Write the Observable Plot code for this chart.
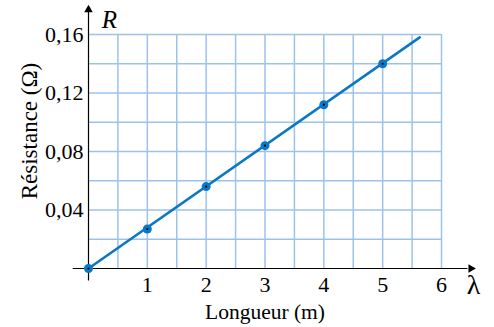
<!DOCTYPE html>
<html><head><meta charset="utf-8">
<script src="https://cdn.jsdelivr.net/npm/d3@7"></script>
<script src="https://cdn.jsdelivr.net/npm/@observablehq/plot@0.6"></script>
<style>body{margin:0;background:#fff}</style>
</head><body><div id="chart"></div>
<script>
const longueurs = [0, 1, 2, 3, 4, 5];
const resistances = [0, 0.027, 0.056, 0.084, 0.112, 0.140];
const fitLine = [[0, 0], [5.63, 0.158]];
const xTicks = [1, 2, 3, 4, 5, 6];
const yTicks = [0.04, 0.08, 0.12, 0.16];
const xGrid = [0.5, 1, 1.5, 2, 2.5, 3, 3.5, 4, 4.5, 5, 5.5, 6];
const yGrid = [0.02, 0.04, 0.06, 0.08, 0.10, 0.12, 0.14, 0.16];

const pts = longueurs.map((x, i) => ({x, y: resistances[i]}));
const font = "'Liberation Serif', 'DejaVu Serif', serif";
const gridColor = "#9cc2ec";
const blue = "#0a78c4";

const chart = Plot.plot({
  width: 494, height: 327,
  marginLeft: 88, marginRight: 53, marginTop: 34, marginBottom: 59,
  style: {fontFamily: font, background: "#fff"},
  x: {domain: [0, 6], axis: null},
  y: {domain: [0, 0.16], axis: null},
  marks: [
    Plot.ruleX(xGrid, {x: d => d, y1: 0, y2: 0.16, stroke: gridColor, strokeWidth: 1.5}),
    Plot.ruleY(yGrid, {y: d => d, x1: 0, x2: 6, stroke: gridColor, strokeWidth: 1.5}),
    // axes
    Plot.ruleY([0], {x1: -0.26, x2: 6.45, stroke: "#000", strokeWidth: 1.2}),
    Plot.ruleX([0], {y1: -0.0085, y2: 0.175, stroke: "#000", strokeWidth: 1.2}),
    Plot.dot([[6.5, 0]], {x: d => d[0], y: d => d[1], symbol: "triangle", rotate: 90, r: 3.2, fill: "#000", stroke: null}),
    Plot.dot([[0, 0.177]], {x: d => d[0], y: d => d[1], symbol: "triangle", r: 3.2, fill: "#000", stroke: null}),
    // tick labels
    Plot.text(xTicks, {x: d => d, y: 0, text: d => String(d), dy: 16, fontSize: 22, fill: "#000"}),
    Plot.text(yTicks, {x: 0, y: d => d, text: d => d.toFixed(2).replace(".", ","), dx: -5, textAnchor: "end", fontSize: 22, fill: "#000"}),
    // axis symbols
    Plot.text(["R"], {x: 0, y: 0.16, text: d => d, dx: 21, dy: -15, fontSize: 25, fontStyle: "italic", fill: "#000"}),
    Plot.text(["λ"], {x: 6, y: 0, text: d => d, dx: 32, dy: 17, fontSize: 28, fill: "#000"}),
    // axis titles
    Plot.text(["Longueur (m)"], {x: 3, y: 0, text: d => d, dy: 44, fontSize: 21.5, fill: "#000"}),
    Plot.text(["Résistance (Ω)"], {x: 0, y: 0.094, text: d => d, dx: -59, rotate: -90, fontSize: 23, fill: "#000"}),
    // data
    Plot.line(fitLine, {x: d => d[0], y: d => d[1], stroke: blue, strokeWidth: 2.6}),
    Plot.dot(pts, {x: "x", y: "y", r: 4.5, fill: blue, stroke: null}),
    Plot.dot(pts, {x: "x", y: "y", r: 1.1, fill: "#000", stroke: null})
  ]
});
document.getElementById("chart").appendChild(chart);
</script>
</body></html>
